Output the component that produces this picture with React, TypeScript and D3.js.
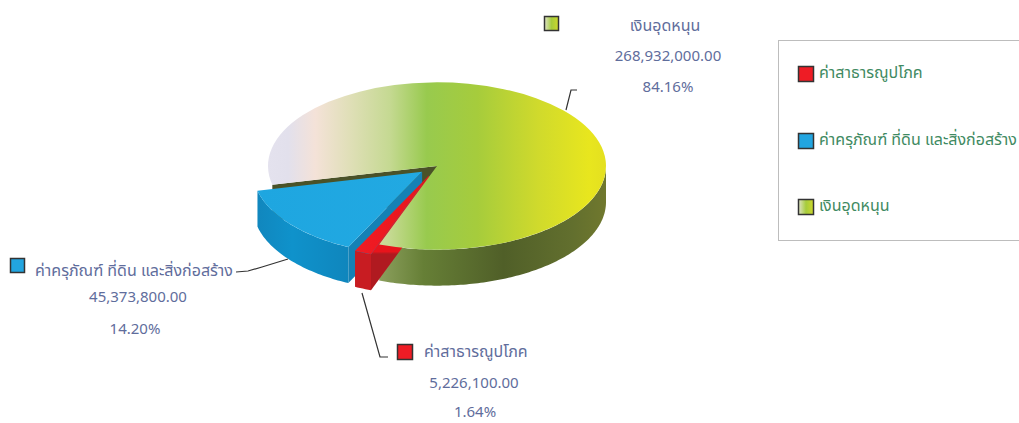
import React from 'react';
import * as d3 from 'd3';

const categories = ['ค่าสาธารณูปโภค', 'ค่าครุภัณฑ์ ที่ดิน และสิ่งก่อสร้าง', 'เงินอุดหนุน'];
const values = [5226100, 45373800, 268932000];
const valueLabels = ['5,226,100.00', '45,373,800.00', '268,932,000.00'];
const percentLabels = ['1.64%', '14.20%', '84.16%'];
const explode = [21, 19, 0];

const WIDTH = 1019;
const HEIGHT = 423;
const cx = 437;
const cy = 166;
const radius = 169;
const tilt = 0.495;
const depth = 36;
const thaiFont = '"Noto Sans Thai", Tahoma, "Noto Sans", "DejaVu Sans", sans-serif';
const numberFont = '"Noto Sans", "DejaVu Sans", sans-serif';

const deg = (d: number) => (d * Math.PI) / 180;

const slices = d3
  .pie<number>()
  .sort(null)
  .startAngle(deg(200))
  .endAngle(deg(560))(values);

const arcGen = d3.arc<any>().innerRadius(0).outerRadius(radius);

// centre of a slice after it has been pulled out of the pie
function offset(i: number): [number, number] {
  const mid = (slices[i].startAngle + slices[i].endAngle) / 2;
  return [explode[i] * Math.sin(mid), -explode[i] * Math.cos(mid) * tilt];
}

function point(i: number, a: number, r = radius): [number, number] {
  const [ox, oy] = offset(i);
  return [cx + ox + r * Math.sin(a), cy + oy - r * Math.cos(a) * tilt];
}

// outer wall between two angles
function outerWall(i: number, a0: number, a1: number) {
  const steps = d3.range(a0, a1, deg(1)).concat(a1);
  const top = steps.map(a => point(i, a));
  const bottom = top.map(([x, y]) => [x, y + depth] as [number, number]).reverse();
  return d3.line()([...top, ...bottom]) + 'Z';
}

// flat cut wall running from the slice centre to the rim
function cutWall(i: number, a: number) {
  const c = point(i, a, 0);
  const e = point(i, a);
  return d3.line()([c, e, [e[0], e[1] + depth], [c[0], c[1] + depth]]) + 'Z';
}

function topFace(i: number) {
  const [ox, oy] = offset(i);
  return (
    <path
      d={arcGen(slices[i] as any) as string}
      transform={`translate(${cx + ox},${cy + oy}) scale(1,${tilt})`}
      fill={`url(#top${i})`}
    />
  );
}

const labelColor = '#5f6d9c';
const legendColor = '#3f8a62';
const leaderColor = '#333';

const leaders = [
  [[362, 293], [380, 357], [388, 357]],
  [[288, 259], [262, 267], [248, 271], [236, 272]],
  [[566, 110], [571, 90], [577, 90]],
] as [number, number][][];

const calloutSwatch = [
  { x: 397.5, y: 344.5, s: 15 },
  { x: 10.5, y: 258.5, s: 14 },
  { x: 544.5, y: 16.5, s: 14 },
];
const calloutText = [
  { name: [424, 357, 'start'], value: [474, 388], pct: [475, 417] },
  { name: [35, 276, 'start'], value: [138, 302], pct: [135, 334] },
  { name: [665, 31, 'middle'], value: [668, 61], pct: [668, 92] },
] as any[];
const legendY = [66.5, 133.5, 199.5];

export default function App() {
  return (
    <svg
      width={WIDTH}
      height={HEIGHT}
      style={{ position: 'absolute', left: 0, top: 0, display: 'block', background: '#fff' }}
    >
      <defs>
        <linearGradient id="top0" x1="0" x2="1" y1="0" y2="0">
          <stop offset="0" stopColor="#f01c24" />
          <stop offset="1" stopColor="#e8141c" />
        </linearGradient>
        <linearGradient id="top1" x1="0" x2="1" y1="0" y2="0">
          <stop offset="0" stopColor="#1ea6e0" />
          <stop offset="1" stopColor="#22a9e2" />
        </linearGradient>
        <linearGradient id="top2" x1="0" x2="1" y1="0" y2="0">
          <stop offset="0" stopColor="#e4e2ee" />
          <stop offset="0.06" stopColor="#e2e0ec" />
          <stop offset="0.14" stopColor="#f4e2d8" />
          <stop offset="0.24" stopColor="#e0dfb8" />
          <stop offset="0.36" stopColor="#c5d992" />
          <stop offset="0.47" stopColor="#98ca4e" />
          <stop offset="0.62" stopColor="#a6cc3c" />
          <stop offset="0.8" stopColor="#d0da2c" />
          <stop offset="0.95" stopColor="#e8e61e" />
          <stop offset="1" stopColor="#e4e020" />
        </linearGradient>
        <linearGradient id="side2" gradientUnits="userSpaceOnUse" x1={378} x2={606} y1={0} y2={0}>
          <stop offset="0" stopColor="#8ca05e" />
          <stop offset="0.2" stopColor="#667f36" />
          <stop offset="0.55" stopColor="#505f28" />
          <stop offset="0.85" stopColor="#626f2e" />
          <stop offset="1" stopColor="#70782e" />
        </linearGradient>
        <linearGradient id="side1" gradientUnits="userSpaceOnUse" x1={255} x2={348} y1={0} y2={0}>
          <stop offset="0" stopColor="#1186bd" />
          <stop offset="0.4" stopColor="#0f92cb" />
          <stop offset="1" stopColor="#0f86bd" />
        </linearGradient>
        {/* bright along the top strip, darker once it drops below the rim */}
        <linearGradient id="cut0" gradientUnits="userSpaceOnUse" x1={0} x2={0} y1={170} y2={290}>
          <stop offset="0" stopColor="#e8141c" />
          <stop offset="0.68" stopColor="#e8141c" />
          <stop offset="0.7" stopColor="#b01a20" />
          <stop offset="1" stopColor="#b01a20" />
        </linearGradient>
        <linearGradient id="swatch2" x1="0" x2="1" y1="0" y2="0">
          <stop offset="0" stopColor="#dfe3c8" />
          <stop offset="0.5" stopColor="#a6cc3c" />
          <stop offset="1" stopColor="#cdd82c" />
        </linearGradient>
      </defs>

      {/* blue slice */}
      <path d={cutWall(2, slices[2].startAngle)} fill="#4a5228" />
      <path d={cutWall(1, slices[1].startAngle)} fill="#1581b5" />
      <path d={outerWall(1, slices[1].startAngle, slices[1].endAngle)} fill="url(#side1)" />
      {topFace(1)}

      {/* green wall, then red over it, green top last so it hides red's cut wall */}
      <path d={outerWall(2, deg(450), slices[2].endAngle)} fill="url(#side2)" />
      <path d={cutWall(0, slices[0].startAngle)} fill="url(#cut0)" />
      <path d={outerWall(0, slices[0].startAngle, slices[0].endAngle)} fill="#c81c22" />
      {topFace(0)}
      {topFace(2)}

      {leaders.map((pts, i) => (
        <path key={i} d={d3.line()(pts) as string} fill="none" stroke={leaderColor} strokeWidth={1.2} />
      ))}

      {categories.map((name, i) => {
        const sw = calloutSwatch[i];
        const t = calloutText[i];
        const fill = i === 0 ? '#ee1c25' : i === 1 ? '#22a5e0' : 'url(#swatch2)';
        return (
          <g key={name} fontFamily={numberFont} fontSize={15} fill={labelColor}>
            <rect x={sw.x} y={sw.y} width={sw.s} height={sw.s} fill={fill} stroke="#333" strokeWidth={1.5} />
            <text x={t.name[0]} y={t.name[1]} textAnchor={t.name[2]} fontFamily={thaiFont} fontSize={16}>{name}</text>
            <text x={t.value[0]} y={t.value[1]} textAnchor="middle">{valueLabels[i]}</text>
            <text x={t.pct[0]} y={t.pct[1]} textAnchor="middle">{percentLabels[i]}</text>
          </g>
        );
      })}

      {/* legend box runs off the right edge */}
      <rect x={778.5} y={40.5} width={260} height={200} fill="#fff" stroke="#bdbdbd" />
      {categories.map((name, i) => {
        const fill = i === 0 ? '#ee1c25' : i === 1 ? '#22a5e0' : 'url(#swatch2)';
        return (
          <g key={name}>
            <rect x={798.5} y={legendY[i]} width={15} height={15} fill={fill} stroke="#333" strokeWidth={1.5} />
            <text x={819} y={legendY[i] + 11} fontFamily={thaiFont} fontSize={16} fill={legendColor}>
              {name}
            </text>
          </g>
        );
      })}
    </svg>
  );
}
